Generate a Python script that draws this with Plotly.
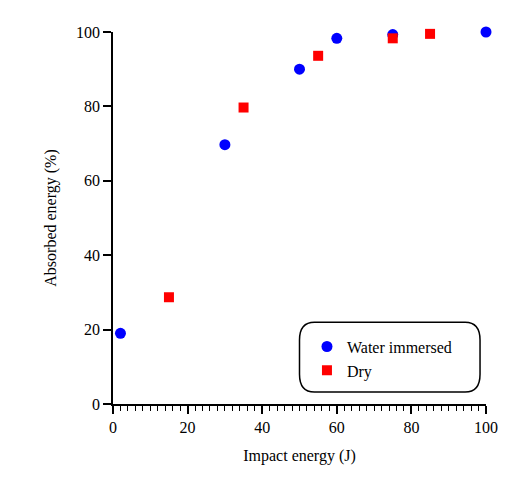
import plotly.graph_objects as go

water_x = [2, 30, 50, 60, 75, 100]
water_y = [19, 69.7, 90, 98.3, 99.3, 100]
dry_x = [15, 35, 55, 75, 85]
dry_y = [28.7, 79.7, 93.6, 98.3, 99.5]

fig = go.Figure()
fig.add_trace(go.Scatter(x=water_x, y=water_y, mode="markers", name="Water immersed",
                         marker=dict(symbol="circle", size=11, color="#0000ff"), cliponaxis=False))
fig.add_trace(go.Scatter(x=dry_x, y=dry_y, mode="markers", name="Dry",
                         marker=dict(symbol="square", size=10, color="#ff0000"), cliponaxis=False))

ax = dict(showgrid=False, zeroline=False, showline=True, linecolor="black", linewidth=1.5,
          ticks="outside", ticklen=8, tickwidth=1.5, tickcolor="black", dtick=20,
          tickfont=dict(size=16))
fig.update_xaxes(**ax, range=[0, 100], title=dict(text="Impact energy (J)", font=dict(size=16)),
                 minor=dict(ticks="outside", ticklen=5, dtick=2, tickcolor="black", tickwidth=1.2))
fig.update_yaxes(**ax, range=[0, 100], title=dict(text="Absorbed energy (%)", font=dict(size=16)))

fig.add_shape(type="path", xref="paper", yref="paper",
              path="M 0.54 0.032 L 0.944 0.032 Q 0.984 0.032 0.984 0.08 L 0.984 0.172 Q 0.984 0.22 0.944 0.22 "
                   "L 0.54 0.22 Q 0.50 0.22 0.50 0.172 L 0.50 0.08 Q 0.50 0.032 0.54 0.032 Z",
              line=dict(color="black", width=1.5), fillcolor="white", layer="below")
fig.update_layout(width=514, height=487, margin=dict(l=105, r=36, t=24, b=91),
                  plot_bgcolor="white", paper_bgcolor="white",
                  font=dict(family="Liberation Serif", color="black", size=16),
                  legend=dict(x=0.52, y=0.2, xanchor="left", yanchor="top",
                              bgcolor="rgba(0,0,0,0)", font=dict(size=16), tracegroupgap=8))
fig.write_html("out.html")
